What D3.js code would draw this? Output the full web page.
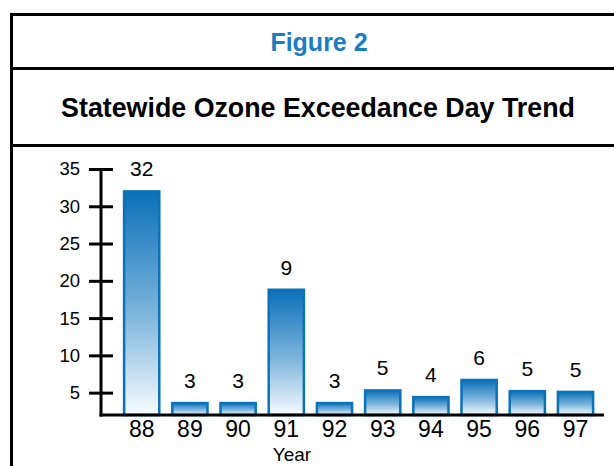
<!DOCTYPE html>
<html>
<head>
<meta charset="utf-8">
<script src="https://cdn.jsdelivr.net/npm/d3@7"></script>
<style>
  html, body { margin: 0; padding: 0; background: #fff; }
  svg { display: block; font-family: "Liberation Sans", Arial, sans-serif; }
</style>
</head>
<body>
<svg id="chart" width="614" height="466"></svg>
<script>
// ---- data ----
const years = ["88", "89", "90", "91", "92", "93", "94", "95", "96", "97"];
const barHeights = [32, 3.6, 3.6, 18.8, 3.6, 5.3, 4.4, 6.7, 5.2, 5.1];
const valueLabels = ["32", "3", "3", "9", "3", "5", "4", "6", "5", "5"];
const yTicks = [5, 10, 15, 20, 25, 30, 35];
const figureTitle = "Figure 2";
const chartTitle = "Statewide Ozone Exceedance Day Trend";
const xTitle = "Year";

const svg = d3.select("#chart");

// gradient
const defs = svg.append("defs");
const grad = defs.append("linearGradient").attr("id", "barGrad")
  .attr("x1", 0).attr("y1", 0).attr("x2", 0).attr("y2", 1);
grad.append("stop").attr("offset", "0%").attr("stop-color", "#0a70b8");
grad.append("stop").attr("offset", "55%").attr("stop-color", "#7db5dc");
grad.append("stop").attr("offset", "100%").attr("stop-color", "#f7fbfe");

// frame
const frame = svg.append("g").attr("stroke", "#000").attr("stroke-width", 3);
frame.append("line").attr("x1", 11.5).attr("x2", 614).attr("y1", 14.5).attr("y2", 14.5);
frame.append("line").attr("x1", 11.5).attr("x2", 614).attr("y1", 68.5).attr("y2", 68.5);
frame.append("line").attr("x1", 11.5).attr("x2", 614).attr("y1", 145.5).attr("y2", 145.5);
frame.append("line").attr("x1", 11.5).attr("x2", 11.5).attr("y1", 13).attr("y2", 466);

// titles
svg.append("text").attr("x", 319).attr("y", 51).attr("text-anchor", "middle")
  .attr("font-size", 25).attr("font-weight", "bold").attr("fill", "#1a7cc1")
  .text(figureTitle);
svg.append("text").attr("x", 318).attr("y", 117).attr("text-anchor", "middle")
  .attr("font-size", 26.8).attr("font-weight", "bold").attr("fill", "#000")
  .text(chartTitle);

// scales
const x = d3.scaleBand().domain(years).range([124.1, 593.1]).paddingInner(0.27).paddingOuter(0);
const y = d3.scaleLinear().domain([2, 35]).range([415, 169]);

// bars
svg.append("g").selectAll("rect").data(years).join("rect")
  .attr("x", d => x(d))
  .attr("y", (d, i) => y(barHeights[i]))
  .attr("width", x.bandwidth())
  .attr("height", (d, i) => y(2) - y(barHeights[i]))
  .attr("fill", "url(#barGrad)")
  .attr("stroke", "#0a72ba")
  .attr("stroke-width", 2.5);

// value labels
svg.append("g").selectAll("text").data(years).join("text")
  .attr("x", d => x(d) + x.bandwidth() / 2)
  .attr("y", (d, i) => y(barHeights[i]) - 15)
  .attr("text-anchor", "middle")
  .attr("font-size", 21)
  .attr("fill", "#000")
  .text((d, i) => valueLabels[i]);

// y axis
const yAxis = d3.axisLeft(y).tickValues(yTicks).tickSize(0).tickPadding(0);
const yg = svg.append("g").attr("transform", "translate(101,0)").call(yAxis);
yg.select(".domain").remove();
yg.selectAll(".tick text").attr("x", -21).attr("font-size", 18.5).attr("fill", "#000")
  .attr("font-family", "'Liberation Sans', Arial, sans-serif");
yg.selectAll(".tick").append("line")
  .attr("x1", -12).attr("x2", 12).attr("stroke", "#000").attr("stroke-width", 3);
yg.append("line").attr("x1", 0).attr("x2", 0).attr("y1", y(35)).attr("y2", y(2) + 1.5)
  .attr("stroke", "#000").attr("stroke-width", 3);

// x axis
const xAxis = d3.axisBottom(x).tickSize(0).tickPadding(0);
const xg = svg.append("g").attr("transform", "translate(0,415)").call(xAxis);
xg.select(".domain").remove();
xg.selectAll(".tick text").attr("dy", 0).attr("y", 22).attr("font-size", 23).attr("fill", "#000")
  .attr("font-family", "'Liberation Sans', Arial, sans-serif");
xg.append("line").attr("x1", 99.5).attr("x2", 604).attr("y1", 0).attr("y2", 0)
  .attr("stroke", "#000").attr("stroke-width", 3);

svg.append("text").attr("x", 292).attr("y", 461).attr("text-anchor", "middle")
  .attr("font-size", 19).attr("fill", "#000").text(xTitle);
</script>
</body>
</html>
